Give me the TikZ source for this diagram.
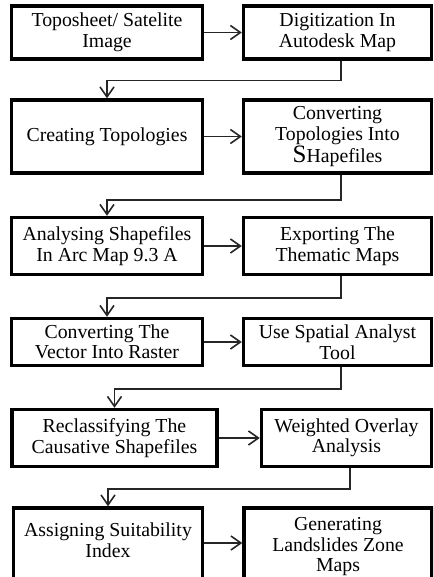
\documentclass[tikz,border=0pt]{standalone}
\usepackage{fontspec}
\setmainfont{Liberation Serif}
\usetikzlibrary{arrows.meta}

\begin{document}
\begin{tikzpicture}[x=1pt,y=1pt,>={Straight Barb[length=10pt,width=14pt,line width=1.6pt]},
  box/.style={draw, line width=3.4pt, align=center, inner sep=0pt, font=\fontsize{19.8}{20.5}\selectfont},
  link/.style={->, line width=1.6pt, draw=black!85}]
  \useasboundingbox (0,0) rectangle (433,-577);
  \clip (0,0) rectangle (433,-577);

  \node [box, minimum width=191, minimum height=53] (topo) at (107,-32.5) {Toposheet/ Satelite\\Image};
  \node [box, minimum width=188, minimum height=53] (digit) at (337.5,-32.5) {Digitization In\\Autodesk Map};

  \node [box, minimum width=191, minimum height=73] (creat) at (107,-136.5) {Creating Topologies};
  \node [box, minimum width=188, minimum height=73] (conv) at (337.5,-136.5) {Converting\\Topologies Into\\{\fontsize{25}{20}\selectfont S}Hapefiles};

  \node [box, minimum width=191, minimum height=57] (anal) at (107,-246) {Analysing Shapefiles\\In Arc Map 9.3 A};
  \node [box, minimum width=188, minimum height=57] (export) at (337.5,-246) {Exporting The\\Thematic Maps};

  \node [box, minimum width=191, minimum height=47] (vect) at (107,-342) {Converting The\\Vector Into Raster};
  \node [box, minimum width=188, minimum height=47] (spat) at (337.5,-342) {Use Spatial Analyst\\Tool};

  \node [box, minimum width=205, minimum height=57] (recl) at (114.5,-438) {Reclassifying The\\Causative Shapefiles};
  \node [box, minimum width=170, minimum height=57] (wover) at (346.5,-438) {Weighted Overlay\\Analysis};

  \node [box, minimum width=189, minimum height=78] (assign) at (108,-547) {Assigning Suitability\\Index\\[-7pt]};
  \node [box, minimum width=188, minimum height=78] (gener) at (338,-547) {Generating\\Landslides Zone\\Maps};

  % across each row
  \draw [link] (topo) -- (digit);
  \draw [link] (creat) -- (conv);
  \draw [link] (anal) -- (export);
  \draw [link] (vect) -- (spat);
  \draw [link] (recl) -- (wover);
  \draw [link] (assign.east |- 0,-543) -- (gener.west |- 0,-543);

  % down to the next row
  \draw [link] ([xshift=3.5pt]digit.south) -- ++(0,-20) -| (creat.north);
  \draw [link] ([xshift=3.5pt]conv.south) -- ++(0,-25) -| (anal.north);
  \draw [link] ([xshift=3.5pt]export.south) -- ++(0,-22) -| (vect.north);
  \draw [link] ([xshift=3.5pt]spat.south) -- ++(0,-22) -| (recl.north);
  \draw [link] ([xshift=3.5pt]wover.south) -- ++(0,-21) -| (assign.north);
\end{tikzpicture}
\end{document}
